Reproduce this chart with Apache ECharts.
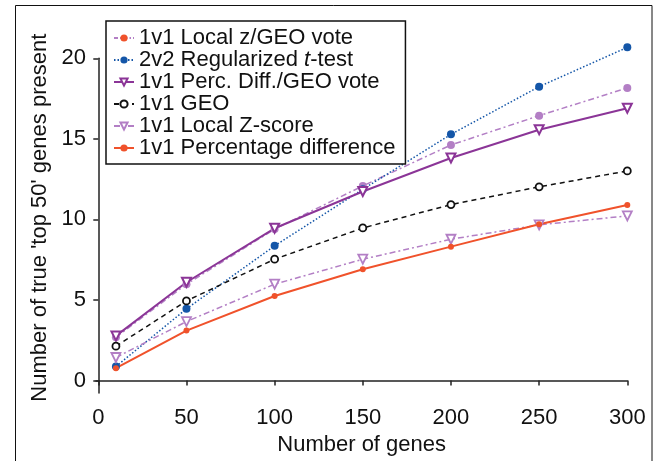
<!DOCTYPE html>
<html>
<head>
<meta charset="utf-8">
<script src="https://cdn.jsdelivr.net/npm/echarts@6/dist/echarts.min.js"></script>
<style>
html,body{margin:0;padding:0;background:#fff;}
#chart{width:657px;height:461px;}
</style>
</head>
<body>
<div id="chart"></div>
<script>
const genes = [10, 50, 100, 150, 200, 250, 300];
const localZGeoVote = [2.69, 5.98, 9.40, 12.08, 14.62, 16.44, 18.16];
const regTTest = [0.87, 4.45, 8.36, 11.87, 15.28, 18.24, 20.68];
const percDiffGeoVote = [2.77, 6.10, 9.45, 11.73, 13.81, 15.57, 16.90];
const geo = [2.13, 4.94, 7.53, 9.47, 10.92, 12.02, 13.01];
const localZScore = [1.43, 3.66, 5.98, 7.53, 8.77, 9.66, 10.22];
const percDiff = [0.77, 3.10, 5.25, 6.91, 8.31, 9.70, 10.90];
const xTicks = [0, 50, 100, 150, 200, 250, 300];
const yTicks = [0, 5, 10, 15, 20];

const FONT = 'Liberation Sans, Arial, Helvetica, sans-serif';
const pair = (ys) => genes.map((g, i) => [g, ys[i]]);

const chart = echarts.init(document.getElementById('chart'), null, {renderer: 'canvas'});
const lightPurple = '#b37fc5';
const purple = '#8b3597';
const blue = '#1456a8';
const red = '#f0522b';

const option = {
  animation: false,
  backgroundColor: '#fff',
  textStyle: {fontFamily: FONT},
  graphic: [{
    type: 'rect', z: -10, silent: true,
    shape: {x: 15.5, y: 5.5, width: 636.5, height: 480},
    style: {fill: 'none', stroke: '#111', lineWidth: 1}
  }],
  grid: {left: 96, right: 29.7, top: 58.3, bottom: 67.7, containLabel: false},
  legend: {
    orient: 'vertical',
    left: 106, top: 21,
    padding: [6, 10, 5, 7],
    backgroundColor: '#fff',
    borderColor: '#111',
    borderWidth: 1.5,
    borderRadius: 0,
    itemWidth: 20,
    itemHeight: 9,
    itemGap: 0,
    textStyle: {
      fontFamily: FONT, fontSize: 22, color: '#111', lineHeight: 20.5,
      rich: {i: {fontFamily: FONT, fontSize: 22, fontStyle: 'italic', color: '#111', lineHeight: 20.5}}
    },
    formatter: function (name) {
      if (name === '2v2 Regularized t-test') return '2v2 Regularized {i|t}-test';
      return name;
    },
    data: [
      {name: '1v1 Local z/GEO vote', itemStyle: {color: red}, lineStyle: {color: lightPurple, type: [4, 2, 1.5, 2]}},
      {name: '2v2 Regularized t-test'},
      {name: '1v1 Perc. Diff./GEO vote'},
      {name: '1v1 GEO'},
      {name: '1v1 Local Z-score'},
      {name: '1v1 Percentage difference'}
    ]
  },
  xAxis: {
    type: 'value', min: -1.3, max: 300,
    name: 'Number of genes', nameLocation: 'middle', nameGap: 40,
    nameTextStyle: {fontFamily: FONT, fontSize: 22, color: '#111'},
    axisLine: {show: true, lineStyle: {color: '#222', width: 1.5}},
    axisTick: {show: true, length: 5, customValues: xTicks, lineStyle: {color: '#222', width: 1.5}},
    axisLabel: {customValues: xTicks, margin: 14, fontFamily: FONT, fontSize: 22, color: '#111'},
    splitLine: {show: false}
  },
  yAxis: {
    type: 'value', min: -0.78, max: 20,
    name: "Number of true 'top 50' genes present", nameLocation: 'middle', nameGap: 37,
    nameTextStyle: {fontFamily: FONT, fontSize: 22, color: '#111', padding: [0, 0, 0, 16]},
    axisLine: {show: true, lineStyle: {color: '#222', width: 1.5}},
    axisTick: {show: true, length: 5, customValues: yTicks, lineStyle: {color: '#222', width: 1.5}},
    axisLabel: {customValues: yTicks, margin: 10, fontFamily: FONT, fontSize: 22, color: '#111'},
    splitLine: {show: false}
  },
  series: [
    {
      name: '1v1 Local z/GEO vote', type: 'line', clip: false, data: pair(localZGeoVote),
      symbol: 'circle', symbolSize: 8,
      itemStyle: {color: lightPurple},
      lineStyle: {color: lightPurple, width: 1.5, type: [6, 3, 2, 3]}
    },
    {
      name: '2v2 Regularized t-test', type: 'line', clip: false, data: pair(regTTest),
      symbol: 'circle', symbolSize: 8,
      itemStyle: {color: blue},
      lineStyle: {color: blue, width: 1.5, type: [1.5, 2]}
    },
    {
      name: '1v1 Perc. Diff./GEO vote', type: 'line', clip: false, data: pair(percDiffGeoVote),
      symbol: 'triangle', symbolRotate: 180, symbolSize: 9,
      itemStyle: {color: '#fff', borderColor: purple, borderWidth: 2},
      lineStyle: {color: purple, width: 2, type: 'solid'}
    },
    {
      name: '1v1 GEO', type: 'line', clip: false, data: pair(geo),
      symbol: 'circle', symbolSize: 7,
      itemStyle: {color: '#fff', borderColor: '#111', borderWidth: 1.8},
      lineStyle: {color: '#111', width: 1.5, type: [5, 4]}
    },
    {
      name: '1v1 Local Z-score', type: 'line', clip: false, data: pair(localZScore),
      symbol: 'triangle', symbolRotate: 180, symbolSize: 9,
      itemStyle: {color: '#fff', borderColor: lightPurple, borderWidth: 1.8},
      lineStyle: {color: lightPurple, width: 1.5, type: [6, 3, 2, 3]}
    },
    {
      name: '1v1 Percentage difference', type: 'line', clip: false, data: pair(percDiff),
      symbol: 'circle', symbolSize: 6,
      itemStyle: {color: red},
      lineStyle: {color: red, width: 2, type: 'solid'}
    }
  ]
};
chart.setOption(option);
</script>
</body>
</html>
